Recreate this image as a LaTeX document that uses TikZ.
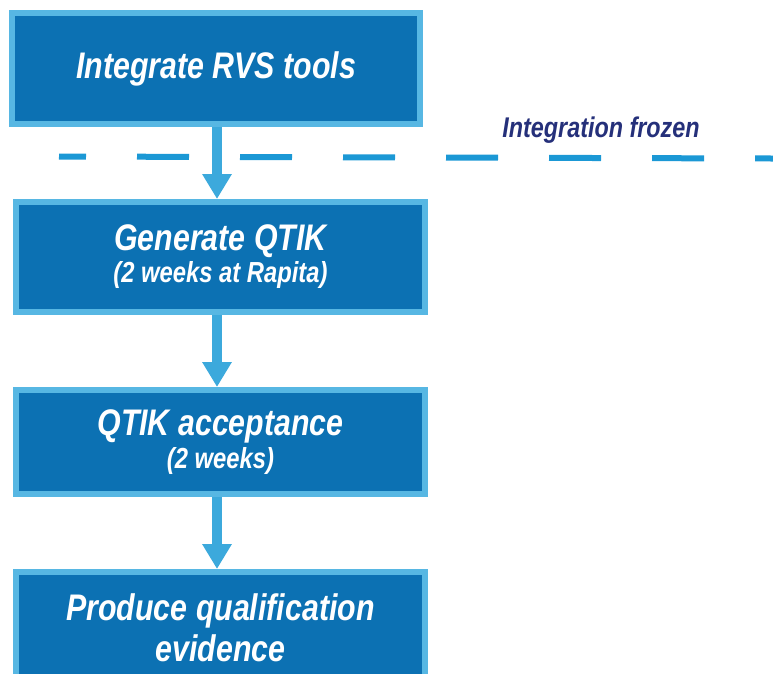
\documentclass[tikz,border=0pt]{standalone}
\usepackage{fontspec}
\setmainfont{Liberation Sans}[FakeStretch=0.82]
\usetikzlibrary{arrows.meta}
\definecolor{boxfill}{HTML}{0C71B3}
\definecolor{boxedge}{HTML}{57B7E3}
\definecolor{arrowblue}{HTML}{3CA9DC}
\definecolor{dashblue}{HTML}{1B98D5}
\definecolor{navy}{HTML}{25307A}
\tikzset{
  stepbox/.style={draw=boxedge, line width=6pt, fill=boxfill, text=white,
    inner sep=0pt, align=center, font=\bfseries\itshape\fontsize{37}{41}\selectfont},
  flowarrow/.style={draw=arrowblue, line width=10pt,
    -{Triangle[width=28pt,length=25pt]}},
  frozenline/.style={draw=dashblue, line width=6pt, dash pattern=on 52pt off 51pt, dash phase=25pt}
}
\newcommand{\subline}[1]{{\fontsize{29}{30}\selectfont #1}}
\begin{document}
\begin{tikzpicture}[x=1pt,y=-1pt]
\useasboundingbox (0,0) rectangle (773,673);
\coordinate (dl) at (59,156.5);
\coordinate (dr) at (773,158.5);
\draw[frozenline] (dl) -- (dr);
\node[text=navy, font=\bfseries\itshape\fontsize{28.5}{30}\selectfont, anchor=base] (frozen) at (601,137) {Integration frozen};
\node[stepbox, minimum width=408pt, minimum height=111pt] (b1) at (216,68.5) {Integrate RVS tools};
\node[stepbox, minimum width=409pt, minimum height=110pt] (b2) at (220.5,257) {Generate QTIK\\[-9pt]\subline{(2 weeks at Rapita)}};
\node[stepbox, minimum width=409pt, minimum height=104pt] (b3) at (220.5,442) {QTIK acceptance\\[-8pt]\subline{(2 weeks)}};
\node[stepbox, minimum width=409pt, minimum height=112pt] (b4) at (220.5,628) {Produce qualification\\evidence};
\coordinate (ax) at (217,0);
\draw[flowarrow] (b1.south -| ax) -- (b2.north -| ax);
\draw[flowarrow] (b2.south -| ax) -- (b3.north -| ax);
\draw[flowarrow] (b3.south -| ax) -- (b4.north -| ax);
\end{tikzpicture}
\end{document}
